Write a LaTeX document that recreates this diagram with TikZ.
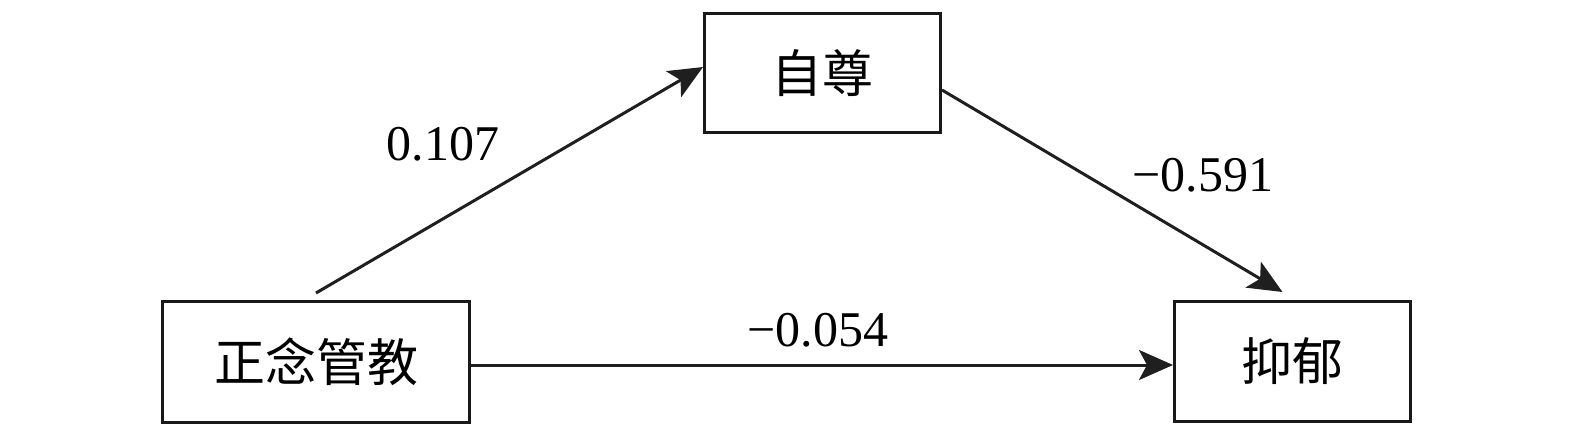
\documentclass[tikz,border=0pt]{standalone}
\usepackage{fontspec}
\setmainfont{Liberation Serif}
\newfontfamily\cjk{Noto Sans CJK SC}
\usetikzlibrary{arrows.meta,calc}
\begin{document}
\begin{tikzpicture}[x=1pt,y=-1pt,
  box/.style={draw=black!90,line width=3pt,inner sep=0pt,font=\fontsize{51}{51}\cjk},
  conn/.style={line width=3pt,draw=black!88,-{Stealth[length=34pt,width=30pt,inset=8pt]}},
  lab/.style={inner sep=0pt,font=\fontsize{50}{50}\selectfont}]
\useasboundingbox (0,0) rectangle (1575,436);
\node[box,minimum width=307pt,minimum height=121pt] (pm) at (316,362) {正念管教};
\node[box,minimum width=236pt,minimum height=119pt] (se) at (822.5,73) {自尊};
\node[box,minimum width=236pt,minimum height=120pt] (dp) at (1292.5,361.5) {抑郁};
\coordinate (s1) at ($(pm.north)+(0,-7)$);
\draw[conn] (s1) -- ($(se.west)+(0,-6)$);
\draw[conn] ($(se.east)+(0,17)$) -- ($(dp.north)+(-10,-8)$);
\draw[conn] ($(pm.east)+(0,3)$) -- ($(dp.west)+(0,3.5)$);
\node[lab] (l1) at (443,144.5) {0.107};
\node[lab] (l2) at (1203,175.5) {−0.591};
\node[lab] (l3) at (818,330.5) {−0.054};
\end{tikzpicture}
\end{document}
